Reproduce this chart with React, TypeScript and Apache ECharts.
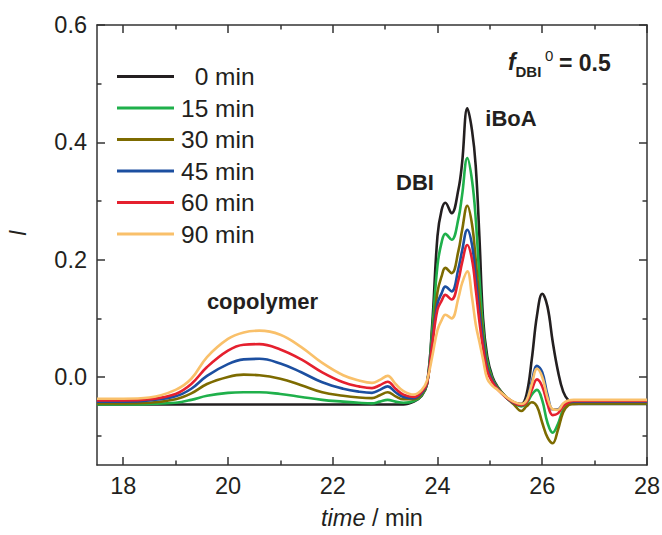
import React, { useEffect, useRef } from "react";
import * as echarts from "echarts";

const times = [17.5, 18.0, 18.5, 19.0, 19.3, 19.6, 20.0, 20.3, 20.6, 21.0, 21.4, 21.8, 22.2, 22.5, 22.75, 22.9, 23.05, 23.2, 23.35,
  23.55, 23.7, 23.8, 23.9, 24.0, 24.08, 24.15, 24.27, 24.4, 24.47, 24.57, 24.66, 24.73, 24.8, 24.87, 24.95, 25.05, 25.15, 25.3, 25.45,
  25.6, 25.7, 25.8, 25.9, 26.0, 26.1, 26.2, 26.3, 26.4, 26.5, 26.6, 26.8, 27.2, 28.0];

const min0 = [-0.047, -0.047, -0.047, -0.047, -0.047, -0.047, -0.047, -0.047, -0.047, -0.047, -0.047, -0.047, -0.047, -0.047, -0.047, -0.047, -0.047, -0.047, -0.047,
  -0.042, -0.032, -0.012, 0.09, 0.24, 0.285, 0.297, 0.279, 0.32, 0.365, 0.458, 0.42, 0.36, 0.24, 0.1, 0.035, 0.0, -0.017, -0.033, -0.043,
  -0.046, -0.03, 0.03, 0.105, 0.142, 0.12, 0.06, 0.01, -0.025, -0.04, -0.046, -0.046, -0.046, -0.046];

const min15 = [-0.047, -0.047, -0.046, -0.044, -0.039, -0.032, -0.027, -0.026, -0.026, -0.029, -0.034, -0.039, -0.042, -0.044, -0.045, -0.042, -0.039, -0.042, -0.044,
  -0.041, -0.031, -0.012, 0.08, 0.19, 0.23, 0.244, 0.234, 0.27, 0.31, 0.373, 0.335, 0.27, 0.17, 0.085, 0.028, -0.003, -0.018, -0.034, -0.044,
  -0.05, -0.045, -0.03, -0.022, -0.04, -0.078, -0.095, -0.08, -0.056, -0.047, -0.045, -0.045, -0.045, -0.045];

const min30 = [-0.045, -0.045, -0.044, -0.038, -0.028, -0.012, 0.0, 0.004, 0.003, -0.003, -0.014, -0.026, -0.032, -0.035, -0.036, -0.031, -0.026, -0.033, -0.038,
  -0.038, -0.029, -0.012, 0.065, 0.145, 0.172, 0.186, 0.177, 0.215, 0.25, 0.292, 0.26, 0.2, 0.13, 0.07, 0.02, -0.005, -0.019, -0.034, -0.046,
  -0.058, -0.05, -0.043, -0.05, -0.078, -0.103, -0.113, -0.09, -0.06, -0.048, -0.046, -0.045, -0.045, -0.045];

const min45 = [-0.042, -0.042, -0.04, -0.033, -0.02, 0.002, 0.022, 0.03, 0.031, 0.023, 0.008, -0.009, -0.02, -0.025, -0.027, -0.022, -0.016, -0.026, -0.034,
  -0.036, -0.027, -0.011, 0.06, 0.125, 0.143, 0.154, 0.146, 0.185, 0.215, 0.251, 0.225, 0.17, 0.11, 0.06, 0.015, -0.007, -0.02, -0.034, -0.044,
  -0.048, -0.04, -0.008, 0.019, 0.008, -0.03, -0.055, -0.055, -0.046, -0.043, -0.042, -0.042, -0.042, -0.042];

const min60 = [-0.04, -0.04, -0.038, -0.029, -0.012, 0.017, 0.045, 0.055, 0.056, 0.047, 0.03, 0.008, -0.009, -0.016, -0.019, -0.014, -0.008, -0.02, -0.03,
  -0.034, -0.025, -0.01, 0.055, 0.115, 0.13, 0.14, 0.132, 0.165, 0.195, 0.225, 0.2, 0.15, 0.095, 0.05, 0.01, -0.009, -0.021, -0.034, -0.043,
  -0.048, -0.043, -0.022, -0.004, -0.016, -0.046, -0.065, -0.062, -0.05, -0.043, -0.041, -0.041, -0.041, -0.041];

const min90 = [-0.037, -0.037, -0.035, -0.022, -0.003, 0.034, 0.065, 0.076, 0.079, 0.072, 0.051, 0.024, 0.003, -0.006, -0.01, -0.005, 0.002, -0.012, -0.024,
  -0.03, -0.022, -0.006, 0.035, 0.08, 0.097, 0.106, 0.1, 0.135, 0.16, 0.18, 0.135, 0.09, 0.06, 0.03, -0.003, -0.015, -0.022, -0.033, -0.042,
  -0.046, -0.04, -0.012, 0.014, 0.0, -0.035, -0.055, -0.056, -0.045, -0.04, -0.039, -0.039, -0.039, -0.039];

const seriesNames = ["\u20070 min", "15 min", "30 min", "45 min", "60 min", "90 min"];
const seriesValues = [min0, min15, min30, min45, min60, min90];
const seriesColors = ["#231f20", "#1fb04b", "#7d6b00", "#1c4fa0", "#e5202e", "#f9c06a"];

const xMajorTicks = [18, 20, 22, 24, 26, 28];
const xMinorTicks = [19, 21, 23, 25, 27];
const yMajorTicks = [0, 0.2, 0.4, 0.6];
const yMinorTicks = [-0.1, 0.1, 0.3, 0.5];

const FONT = '"Liberation Sans", Arial, Helvetica, sans-serif';
const INK = "#231f20";
const AX = "#333333";

export default function App() {
  const ref = useRef<HTMLDivElement>(null);
  useEffect(() => {
    if (!ref.current) return;
    const chart = echarts.init(ref.current, undefined, { renderer: "svg" });
    const lineStyle = { color: AX, width: 1.5 };
    const mkX = (pos: string, ticks: number[], len: number, main: boolean, line: boolean) => ({
      type: "value", min: 17.5, max: 28, position: pos,
      axisLine: { show: line, onZero: false, lineStyle },
      axisTick: { show: true, inside: true, length: len, customValues: ticks, lineStyle },
      axisLabel: main
        ? { show: true, customValues: ticks, margin: 9, fontSize: 23.5, fontFamily: FONT, color: INK }
        : { show: false },
      splitLine: { show: false },
    });
    const mkY = (pos: string, ticks: number[], len: number, main: boolean, line: boolean) => ({
      type: "value", min: -0.15, max: 0.6, position: pos,
      axisLine: { show: line, onZero: false, lineStyle },
      axisTick: { show: true, inside: true, length: len, customValues: ticks, lineStyle },
      axisLabel: main
        ? { show: true, customValues: ticks, margin: 10, fontSize: 23.5, fontFamily: FONT, color: INK, formatter: (v: number) => v.toFixed(1) }
        : { show: false },
      splitLine: { show: false },
    });
    const txt = (text: string, x: number, y: number, size: number, weight: string, style: string, align = "center") => ({
      type: "text", x, y,
      style: {
        text, fill: INK, fontSize: size, fontWeight: weight, fontStyle: style, fontFamily: FONT,
        align, verticalAlign: "middle", textAlign: align, textVerticalAlign: "middle",
      },
    });
    chart.setOption({
      animation: false,
      grid: { left: 97, right: 15, top: 25, bottom: 70, containLabel: false, outerBoundsMode: "none" },
      xAxis: [
        mkX("bottom", xMajorTicks, 8, true, true),
        mkX("bottom", xMinorTicks, 4.5, false, false),
        mkX("top", xMajorTicks, 8, false, true),
        mkX("top", xMinorTicks, 4.5, false, false),
      ],
      yAxis: [
        mkY("left", yMajorTicks, 8, true, true),
        mkY("left", yMinorTicks, 4.5, false, false),
        mkY("right", yMajorTicks, 8, false, true),
        mkY("right", yMinorTicks, 4.5, false, false),
      ],
      legend: {
        orient: "vertical", left: 117, top: 64, padding: 0, itemWidth: 57, itemHeight: 3, itemGap: 6.5,
        icon: "rect", selectedMode: false,
        textStyle: { fontSize: 24.5, fontFamily: FONT, color: INK, lineHeight: 24, padding: [0, 0, 0, 2] },
        data: seriesNames,
      },
      series: seriesNames.map((name, i) => ({
        name, type: "line", xAxisIndex: 0, yAxisIndex: 0,
        data: times.map((t, j) => [t, seriesValues[i][j]]),
        showSymbol: false, symbol: "none", smooth: 0.4,
        lineStyle: { color: seriesColors[i], width: 2.6 },
        itemStyle: { color: seriesColors[i] },
        z: 2 + i,
      })),
      graphic: [
        txt("copolymer", 262.5, 301, 22, "bold", "normal"),
        txt("DBI", 415, 182.5, 22, "bold", "normal"),
        txt("iBoA", 511, 118.5, 22, "bold", "normal"),
        txt("f", 508, 62, 23, "bold", "italic", "left"),
        txt("DBI", 515.5, 71, 15, "bold", "normal", "left"),
        txt("0", 545, 55, 15, "normal", "normal", "left"),
        txt("= 0.5", 559, 62.5, 23, "bold", "normal", "left"),
        {
          type: "text", x: 372, y: 518,
          style: {
            text: "{i|time} / min", fill: INK, fontSize: 23.5, fontFamily: FONT,
            align: "center", verticalAlign: "middle", textAlign: "center", textVerticalAlign: "middle",
            rich: { i: { fontStyle: "italic", fontSize: 23.5, fontFamily: FONT, fill: INK, color: INK } },
          },
        },
        {
          type: "text", x: 18, y: 233, rotation: Math.PI / 2,
          style: {
            text: "I", fill: INK, fontSize: 23, fontStyle: "italic", fontFamily: FONT,
            align: "center", verticalAlign: "middle", textAlign: "center", textVerticalAlign: "middle",
          },
        },
      ],
    } as any);
    return () => chart.dispose();
  }, []);
  return <div ref={ref} style={{ position: "absolute", left: 0, top: 0, width: 662, height: 535 }} />;
}
